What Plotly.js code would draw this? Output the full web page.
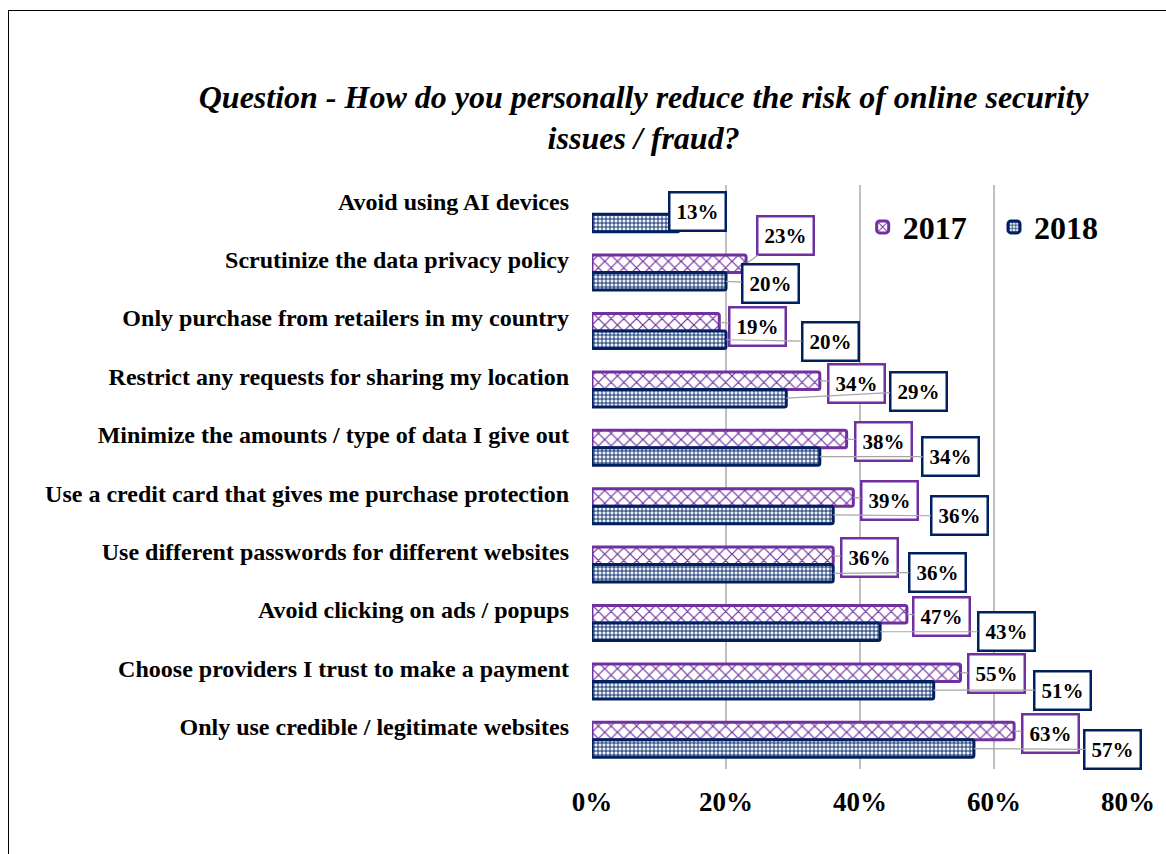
<!DOCTYPE html>
<html>
<head>
<meta charset="utf-8">
<script src="https://cdn.plot.ly/plotly-3.0.1.min.js"></script>
<style>
  html, body { margin: 0; padding: 0; background: #fff; overflow: hidden; }
  #chart { width: 1166px; height: 854px; }
  #frame { position: absolute; left: 8px; top: 10px; width: 1200px; height: 900px;
           border: 1.5px solid #000; pointer-events: none; }
</style>
</head>
<body>
<div id="chart"></div>
<div id="frame"></div>
<script>
const categories = [
  "Avoid using AI devices",
  "Scrutinize the data privacy policy",
  "Only purchase from retailers in my country",
  "Restrict any requests for sharing my location",
  "Minimize the amounts / type of data I give out",
  "Use a credit card that gives me purchase protection",
  "Use different passwords for different websites",
  "Avoid clicking on ads / popups",
  "Choose providers I trust to make a payment",
  "Only use credible / legitimate websites"
];
const values2017 = [null, 23, 19, 34, 38, 39, 36, 47, 55, 63];
const values2018 = [13, 20, 20, 29, 34, 36, 36, 43, 51, 57];
const xTickVals = [0, 20, 40, 60, 80];
const xTickText = ["0%", "20%", "40%", "60%", "80%"];

// label box offsets (pixels) from bar end
const off2017 = [[0,0],[39,-28],[38,4],[37,3],[37,2],[36,3],[36,2],[35,2],[36,1],[36,2]];
const off2018 = [[18,-11],[44,2],[104,2],[132,-7],[131,0],[126,1],[104,-1],[126,0],[129,0],[139,1]];

const PURPLE = '#7030a0';
const NAVY = '#002060';
const serif = '"Liberation Serif", "Times New Roman", serif';

const traces = [
  {
    type: 'bar', orientation: 'h', name: '2017', legend: 'legend',
    y: categories, x: values2017,
    marker: {
      color: '#ffffff',
      line: { color: PURPLE, width: 3 },
      pattern: { shape: 'x', fgcolor: PURPLE, bgcolor: '#ffffff', size: 9, solidity: 0.25 },
      cornerradius: 2
    },
    hoverinfo: 'skip'
  },
  {
    type: 'bar', orientation: 'h', name: '2018', legend: 'legend2',
    y: categories, x: values2018,
    marker: {
      color: '#ffffff',
      line: { color: NAVY, width: 3 },
      pattern: { shape: '+', fgcolor: NAVY, bgcolor: '#eef2fa', size: 4, solidity: 0.4 },
      cornerradius: 2
    },
    hoverinfo: 'skip'
  }
];

const annotations = [];
function addLabels(vals, offs, shift, color) {
  vals.forEach((v, i) => {
    if (v === null) return;
    annotations.push({
      x: v, y: i + shift, xref: 'x', yref: 'y',
      text: '<b>' + v + '%</b>',
      showarrow: true, arrowhead: 0, arrowwidth: 1.2, arrowcolor: '#a6a6a6',
      ax: offs[i][0], ay: offs[i][1], standoff: 0,
      bgcolor: '#ffffff', bordercolor: color, borderwidth: 2.5, borderpad: 6,
      font: { family: serif, size: 21, color: '#000' }
    });
  });
}
addLabels(values2017, off2017, -0.15, PURPLE);
addLabels(values2018, off2018, 0.15, NAVY);

const legendFont = { family: serif, size: 32, color: '#000', weight: 'bold' };

const layout = {
  width: 1166, height: 854,
  margin: { l: 592, r: 38, t: 185, b: 85 },
  paper_bgcolor: '#ffffff', plot_bgcolor: '#ffffff',
  barmode: 'group', bargap: 0.4, bargroupgap: 0,
  title: {
    text: '<b><i>Question - How do you personally reduce the risk of online security<br>issues / fraud?</i></b>',
    font: { family: serif, size: 32, color: '#000' },
    x: 0.552, xref: 'container', xanchor: 'center',
    y: 0.874, yref: 'container', yanchor: 'middle'
  },
  xaxis: {
    range: [0, 80], tickvals: xTickVals, ticktext: xTickText,
    showgrid: true, gridcolor: '#bfbfbf', gridwidth: 1.5,
    zeroline: false, showline: false, ticks: '',
    tickfont: { family: serif, size: 27, color: '#000', weight: 'bold' },
    ticklabelstandoff: 14, fixedrange: true
  },
  yaxis: {
    autorange: 'reversed', type: 'category',
    showgrid: false, zeroline: false, showline: false, ticks: '',
    tickfont: { family: serif, size: 24, color: '#000', weight: 'bold' },
    ticklabelstandoff: 22, ticklabelshift: 13, fixedrange: true
  },
  legend: {
    orientation: 'h', x: 0.505, y: 0.975, xanchor: 'left', yanchor: 'top',
    font: legendFont, bgcolor: 'rgba(255,255,255,0)', itemwidth: 30
  },
  legend2: {
    orientation: 'h', x: 0.75, y: 0.975, xanchor: 'left', yanchor: 'top',
    font: legendFont, bgcolor: 'rgba(255,255,255,0)', itemwidth: 30
  },
  annotations: annotations,
  showlegend: true
};

Plotly.newPlot('chart', traces, layout, { displayModeBar: false, staticPlot: true });
</script>
</body>
</html>
